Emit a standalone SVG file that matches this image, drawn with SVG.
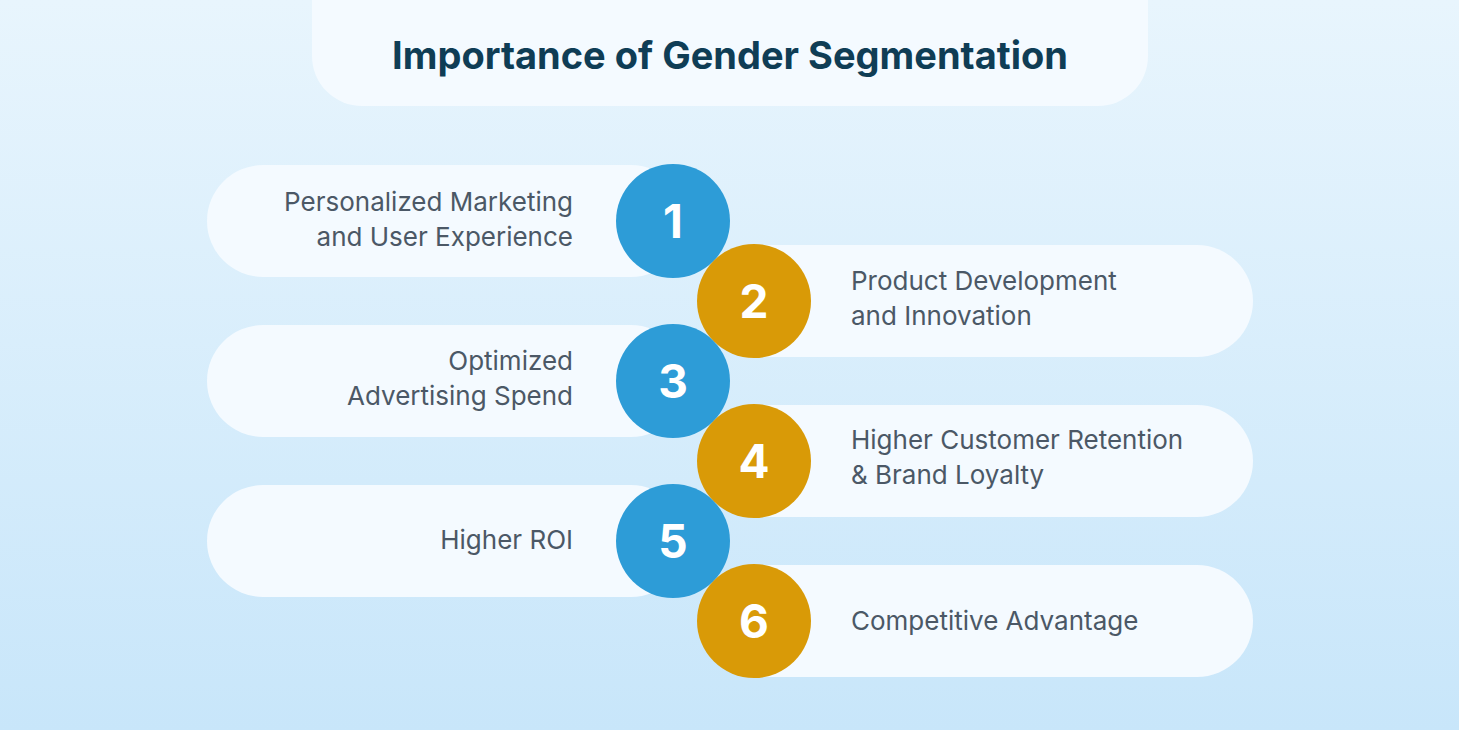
<svg xmlns="http://www.w3.org/2000/svg" width="1459" height="730" viewBox="0 0 1459 730">
<defs>
<linearGradient id="bg" x1="0" y1="0" x2="0" y2="1"><stop offset="0" stop-color="#e8f5fd"/><stop offset="1" stop-color="#c8e6fa"/></linearGradient>
<style>
.pill{fill:#f4faff}
.t{font-family:"Inter","Liberation Sans",sans-serif;font-size:26px;fill:#4b5866}
.n{font-family:"Inter","Liberation Sans",sans-serif;font-size:46px;font-weight:700;fill:#fff}
.b{fill:#2d9cd7}.g{fill:#d99a07}
</style>
</defs>
<rect width="1459" height="730" fill="url(#bg)"/>
<g id="title"><path d="M312 0H1148V56A50 50 0 0 1 1098 106H362A50 50 0 0 1 312 56Z" fill="#f4faff"/>
<text x="730" y="69" text-anchor="middle" font-family="Inter,'Liberation Sans',sans-serif" font-size="38" font-weight="700" fill="#0f3d55">Importance of Gender Segmentation</text></g>
<g id="n1"><rect class="pill" x="207" y="165" width="480" height="112" rx="56"/><circle class="b" cx="673" cy="221" r="57"/><text class="n" x="673" y="238" text-anchor="middle">1</text>
<text class="t" x="573" y="211" text-anchor="end">Personalized Marketing</text><text class="t" x="573" y="246" text-anchor="end">and User Experience</text></g>
<g id="n2"><rect class="pill" x="700" y="245" width="553" height="112" rx="56"/><circle class="g" cx="754" cy="301" r="57"/><text class="n" x="754" y="318" text-anchor="middle">2</text>
<text class="t" x="851" y="290">Product Development</text><text class="t" x="851" y="325">and Innovation</text></g>
<g id="n3"><rect class="pill" x="207" y="325" width="480" height="112" rx="56"/><circle class="b" cx="673" cy="381" r="57"/><text class="n" x="673" y="398" text-anchor="middle">3</text>
<text class="t" x="573" y="370" text-anchor="end">Optimized</text><text class="t" x="573" y="405" text-anchor="end">Advertising Spend</text></g>
<g id="n4"><rect class="pill" x="700" y="405" width="553" height="112" rx="56"/><circle class="g" cx="754" cy="461" r="57"/><text class="n" x="754" y="478" text-anchor="middle">4</text>
<text class="t" x="851" y="449">Higher Customer Retention</text><text class="t" x="851" y="484">&amp; Brand Loyalty</text></g>
<g id="n5"><rect class="pill" x="207" y="485" width="480" height="112" rx="56"/><circle class="b" cx="673" cy="541" r="57"/><text class="n" x="673" y="558" text-anchor="middle">5</text>
<text class="t" x="573" y="549" text-anchor="end">Higher ROI</text></g>
<g id="n6"><rect class="pill" x="700" y="565" width="553" height="112" rx="56"/><circle class="g" cx="754" cy="621" r="57"/><text class="n" x="754" y="638" text-anchor="middle">6</text>
<text class="t" x="851" y="630">Competitive Advantage</text></g>
<g id="connectors"/>
</svg>
